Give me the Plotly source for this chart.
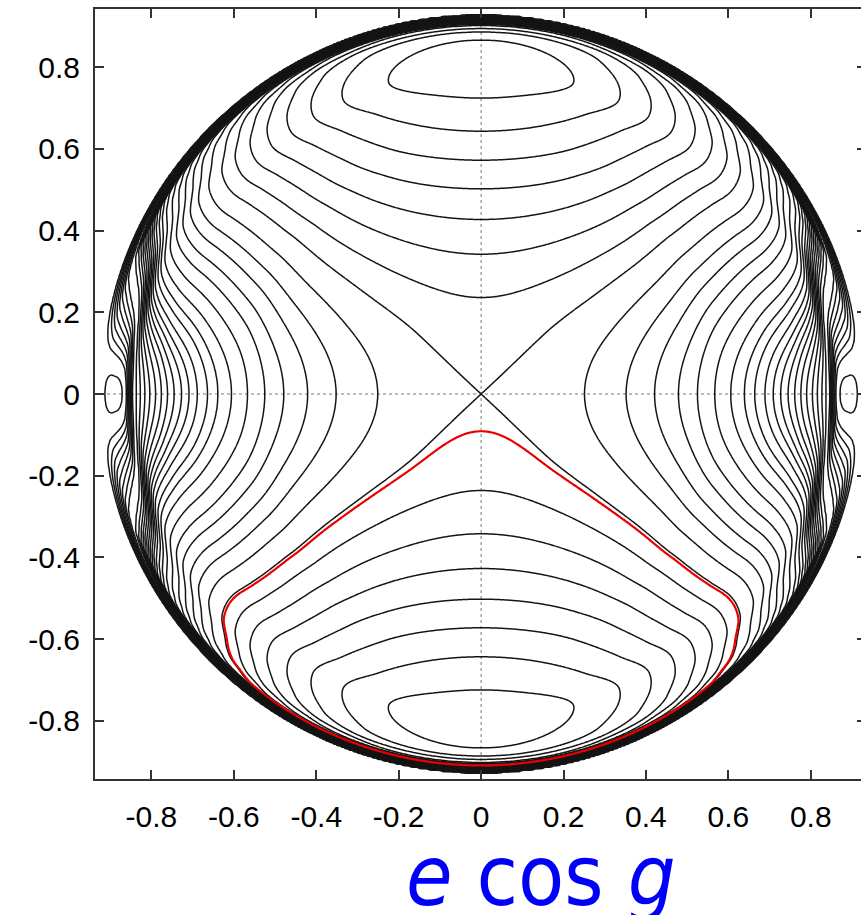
import numpy as np
import plotly.graph_objects as go

# ---- level-curve data ----
# crossings of the level curves with the e sin g axis (radius e, level)
y_axis_r = [0.0, 0.236, 0.342, 0.427, 0.502, 0.572, 0.643, 0.724, 0.795,
            0.866, 0.886, 0.894, 0.902, 0.909, 0.916, 0.927]
y_axis_level = [0, -1, -2, -3, -4, -5, -6, -7, -7.7,
                -7, -6, -5, -4, 0, 5, 14]

# energy along the e cos g axis, and the initial rise a(e) when turning off
# the e sin g axis:  H = H_y + a p + (H_x - H_y - a) p^2,  p = cos^2 g
shape_r = [0.0, 0.25, 0.365, 0.50, 0.60, 0.70, 0.78, 0.83, 0.866, 0.90, 0.927]
shape_hx = [0.0, 1.09, 2.18, 3.93, 5.6, 7.08, 8.2, 9.25, 11.8, 13.2, 14.0]
shape_a = [0.0, 2.0, 3.45, 5.3, 6.8, 7.9, 8.1, 8.2, 8.2, 6.0, 0.0]

# narrow ridge hugging the e cos g axis close to e_max (the notch at g = 0, 180)
ridge_r = [0.0, 0.84, 0.866, 0.895, 0.927]
ridge_h = [0.0, 0.0, 2.3, 1.5, 0.0]
ridge_power = 40

# circulating curves: where they cut the e cos g axis
x_axis_r = [0.251, 0.352, 0.421, 0.479, 0.525, 0.567, 0.606, 0.639, 0.664,
            0.689, 0.709, 0.727, 0.745, 0.761, 0.776, 0.790, 0.804, 0.816,
            0.827, 0.836, 0.846]

libration_levels = [-7, -6, -5, -4, -3, -2, -1]
separatrix_level = 0
n_edge_curves = 7        # crowded curves just inside the e_max circle
e_max = 0.927
edge_level = 14.0        # level of the e = e_max circle
ridge_level = 14.3
orbit_level = -0.15      # level of the integrated orbit (red)

tick_vals = [-0.8, -0.6, -0.4, -0.2, 0, 0.2, 0.4, 0.6, 0.8]
tick_text = ["-0.8", "-0.6", "-0.4", "-0.2", "0", "0.2", "0.4", "0.6", "0.8"]


def pchip(xk, yk, xq):
    """Monotone piecewise-cubic Hermite interpolation."""
    xk = np.asarray(xk, float)
    yk = np.asarray(yk, float)
    xq = np.asarray(xq, float)
    h = np.diff(xk)
    d = np.diff(yk) / h
    m = np.zeros_like(yk)
    for i in range(1, len(xk) - 1):
        if d[i - 1] * d[i] > 0:
            w1 = 2 * h[i] + h[i - 1]
            w2 = h[i] + 2 * h[i - 1]
            m[i] = (w1 + w2) / (w1 / d[i - 1] + w2 / d[i])
    m[0] = d[0]
    m[-1] = d[-1]
    idx = np.clip(np.searchsorted(xk, xq) - 1, 0, len(h) - 1)
    t = (xq - xk[idx]) / h[idx]
    h00 = 2 * t**3 - 3 * t**2 + 1
    h10 = t**3 - 2 * t**2 + t
    h01 = -2 * t**3 + 3 * t**2
    h11 = t**3 - t**2
    return (h00 * yk[idx] + h10 * h[idx] * m[idx]
            + h01 * yk[idx + 1] + h11 * h[idx] * m[idx + 1])


def energy(u, p):
    """Energy at squared eccentricity u and p = cos^2 g."""
    hy = pchip(np.square(y_axis_r), y_axis_level, u)
    hx = pchip(np.square(shape_r), shape_hx, u)
    a = pchip(np.square(shape_r), shape_a, u)
    ridge = pchip(np.square(ridge_r), ridge_h, u)
    return hy + a * p + (hx - hy - a) * p**2 + ridge * p**ridge_power


# ---- energy surface on a grid in (e cos g, e sin g) ----
n = 501
gx = np.linspace(-0.94, 0.94, n)
gy = np.linspace(-0.94, 0.94, n)
X, Y = np.meshgrid(gx, gy)
U = X**2 + Y**2
Uc = np.clip(U, 0, e_max**2)
P = np.where(U > 0, X**2 / np.where(U > 0, U, 1), 0.5)
H = energy(Uc, P)
H[U > e_max**2] = edge_level        # forbidden region: flat, no level lines

# levels to draw: libration curves, separatrix, circulating curves
circ_levels = list(energy(np.square(x_axis_r), 1.0))
edge_curves = list(np.linspace(circ_levels[-1], edge_level, n_edge_curves + 2)[1:-1])
levels = sorted(set(libration_levels + [separatrix_level] + circ_levels
                    + edge_curves + [ridge_level]))
# relabel so that every drawn level falls on a whole number
xp = [levels[0] - 1.0] + levels + [levels[-1] + 1.0]
fp = list(range(-1, len(levels) + 1))
G = np.round(np.interp(H, xp, fp), 4)

lower = gy < 0                      # the orbit only lives in the lower half
H_low = np.round(H[lower], 4)

fig = go.Figure()

fig.add_trace(go.Contour(
    x=gx, y=gy, z=G,
    autocontour=False,
    contours=dict(start=0, end=len(levels) - 1, size=1, coloring="lines"),
    colorscale=[[0, "#151515"], [1, "#151515"]],
    line=dict(width=1.5, smoothing=0.6),
    showscale=False, hoverinfo="skip",
))

fig.add_trace(go.Contour(
    x=gx, y=gy[lower], z=H_low,
    autocontour=False,
    contours=dict(start=orbit_level, end=orbit_level, size=1, coloring="lines"),
    colorscale=[[0, "rgb(235,0,0)"], [1, "rgb(235,0,0)"]],
    line=dict(width=2.2, smoothing=0.6),
    showscale=False, hoverinfo="skip",
))

axis_common = dict(
    tickvals=tick_vals, ticktext=tick_text,
    ticks="inside", ticklen=9, tickwidth=1.5, tickcolor="#333",
    showline=True, linewidth=2, linecolor="#333", mirror="ticks",
    showgrid=False, zeroline=False,
    tickfont=dict(family="Liberation Sans, Arial, sans-serif", size=30, color="black"),
)

fig.update_layout(
    width=875, height=915,
    margin=dict(l=95, r=8, t=7, b=136),
    paper_bgcolor="white", plot_bgcolor="white",
    xaxis=dict(range=[-0.937, 0.934], ticklabelstandoff=10, **axis_common),
    yaxis=dict(range=[-0.942, 0.942], ticklabelstandoff=7, **axis_common),
    shapes=[
        dict(type="line", xref="x", yref="paper", x0=0, x1=0, y0=0, y1=1,
             line=dict(color="#777", width=1, dash="dot"), layer="below"),
        dict(type="line", xref="paper", yref="y", x0=0, x1=1, y0=0, y1=0,
             line=dict(color="#777", width=1, dash="dot"), layer="below"),
    ],
    annotations=[dict(
        text="<i>e</i> cos <i>g</i>", xref="paper", yref="paper",
        x=0.578, y=-0.06, xanchor="center", yanchor="top", showarrow=False,
        font=dict(family="DejaVu Sans Condensed, DejaVu Sans, sans-serif",
                  size=84, color="rgb(0,0,250)"),
    )],
)

fig.write_html(
    "out.html",
    post_script="document.documentElement.style.overflow='hidden';"
                "document.body.style.overflow='hidden';",
)
